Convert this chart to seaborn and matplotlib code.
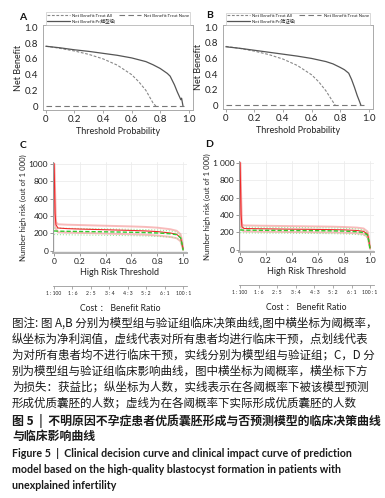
import numpy as np
import pandas as pd
import matplotlib
matplotlib.use("Agg")
import matplotlib.pyplot as plt
import seaborn as sns

sns.set_theme(style="white")
plt.rcParams['font.family'] = ['Lato', 'Noto Sans CJK SC', 'DejaVu Sans']

# ---------------- Decision curves (A, B) ----------------
thr_all_a = [0, 0.05, 0.1, 0.2, 0.3, 0.4, 0.5, 0.6, 0.65, 0.7, 0.75, 0.77]
nb_all_a = [0.76, 0.748, 0.733, 0.70, 0.657, 0.60, 0.52, 0.40, 0.31, 0.20, 0.04, 0.0]
thr_all_b = [0, 0.05, 0.1, 0.2, 0.3, 0.4, 0.5, 0.6, 0.65, 0.7, 0.74, 0.765]
nb_all_b = [0.755, 0.742, 0.728, 0.694, 0.65, 0.592, 0.51, 0.39, 0.30, 0.185, 0.07, 0.0]
thr_none = [0, 0.97]
nb_none = [0, 0]
thr_mod_a = [0, 0.1, 0.2, 0.3, 0.4, 0.5, 0.6, 0.7, 0.75, 0.8, 0.85, 0.87, 0.9, 0.92, 0.935, 0.945, 0.95, 0.96]
nb_mod_a = [0.76, 0.74, 0.715, 0.695, 0.67, 0.645, 0.612, 0.565, 0.525, 0.478, 0.415, 0.38, 0.27, 0.18, 0.12, 0.08, 0.10, 0.0]
thr_mod_b = [0, 0.1, 0.2, 0.3, 0.4, 0.5, 0.6, 0.7, 0.75, 0.8, 0.83, 0.86, 0.88, 0.9, 0.92, 0.935, 0.945]
nb_mod_b = [0.75, 0.73, 0.705, 0.68, 0.655, 0.63, 0.60, 0.56, 0.53, 0.485, 0.455, 0.41, 0.33, 0.23, 0.12, 0.05, 0.0]
legend_all = "Net Benefit:Treat All"
legend_none = "Net Benefit:Treat None"
legend_mod_a = "Net Benefit:Pr(模型组)"
legend_mod_b = "Net Benefit:Pr(验证组)"
dca_ticks = [0, 0.2, 0.4, 0.6, 0.8, 1.0]
dca_ticklabels = ["0", "0.2", "0.4", "0.6", "0.8", "1.0"]

# ---------------- Clinical impact curves (C, D) ----------------
thr_cic = [0, 0.003, 0.008, 0.015, 0.03, 0.1, 0.2, 0.3, 0.4, 0.5, 0.6, 0.7, 0.8, 0.9, 0.95, 0.98, 0.99, 1.0]
c_risk = [1000, 820, 430, 300, 262, 255, 250, 246, 242, 238, 234, 229, 221, 205, 190, 150, 90, 20]
c_risk_hi = [1000, 1000, 700, 330, 305, 300, 296, 292, 288, 284, 280, 275, 266, 248, 230, 190, 130, 30]
c_risk_lo = [1000, 600, 300, 250, 215, 210, 206, 202, 198, 194, 190, 185, 176, 160, 145, 110, 60, 10]
c_event = [228, 228, 228, 227, 226, 224, 222, 220, 218, 216, 213, 210, 205, 196, 185, 150, 90, 5]
c_event_hi = [262, 262, 262, 261, 260, 258, 256, 254, 252, 250, 247, 244, 239, 229, 215, 175, 110, 10]
c_event_lo = [188, 188, 188, 187, 186, 184, 182, 180, 178, 176, 174, 171, 166, 158, 148, 115, 60, 2]
d_risk = [1000, 800, 400, 265, 245, 243, 241, 239, 237, 236, 234, 232, 229, 222, 212, 180, 110, 20]
d_risk_hi = [1000, 1000, 650, 290, 280, 278, 276, 274, 272, 270, 268, 266, 262, 255, 245, 210, 140, 30]
d_risk_lo = [1000, 600, 280, 225, 212, 210, 208, 206, 204, 203, 201, 199, 196, 190, 180, 150, 80, 10]
d_event = [228, 228, 228, 227, 226, 225, 224, 223, 222, 221, 220, 218, 215, 208, 198, 170, 100, 5]
d_event_hi = [262, 262, 262, 261, 260, 259, 258, 257, 256, 255, 253, 251, 248, 240, 228, 195, 120, 10]
d_event_lo = [196, 196, 196, 195, 194, 193, 192, 191, 190, 189, 188, 186, 183, 176, 168, 140, 80, 2]
cic_yticks = [0, 200, 400, 600, 800, 1000]
c_yticklabels = ["0", "200", "400", "600", "800", "1000"]
d_yticklabels = ["0", "200", "400", "600", "800", "1 000"]
cb_ticks = list(np.linspace(0, 1, 8))
cb_labels = ["1 : 100", "1 : 6", "2 : 5", "3 : 4", "4 : 3", "5 : 2", "6 : 1", "100 : 1"]

caption_lines = [
    "图注: 图 A,B 分别为模型组与验证组临床决策曲线,图中横坐标为阈概率，",
    "纵坐标为净利润值，虚线代表对所有患者均进行临床干预，点划线代表",
    "为对所有患者均不进行临床干预，实线分别为模型组与验证组；C，D 分",
    "别为模型组与验证组临床影响曲线，图中横坐标为阈概率，横坐标下方",
    "为损失：获益比；纵坐标为人数，实线表示在各阈概率下被该模型预测",
    "形成优质囊胚的人数；虚线为在各阈概率下实际形成优质囊胚的人数",
]
title_cn = ["图 5  |  不明原因不孕症患者优质囊胚形成与否预测模型的临床决策曲线",
            "与临床影响曲线"]
title_en = ["Figure 5  |  Clinical decision curve and clinical impact curve of prediction",
            "model based on the high-quality blastocyst formation in patients with",
            "unexplained infertility"]

W, H = 385, 498
fig = plt.figure(figsize=(W / 100, H / 100), dpi=100)


def px_axes(l, t, r, b):
    return fig.add_axes([l / W, 1 - b / H, (r - l) / W, (b - t) / H])


def dca_panel(ax, thr_all, nb_all, thr_mod, nb_mod, mod_label):
    sns.lineplot(x=thr_all, y=nb_all, ax=ax, color="#888888", lw=0.8, label=legend_all)
    ax.lines[-1].set_dashes((2.5, 1.5))
    sns.lineplot(x=thr_mod, y=nb_mod, ax=ax, color="#555555", lw=0.9, label=mod_label, sort=False)
    sns.lineplot(x=thr_none, y=nb_none, ax=ax, color="#777777", lw=0.8, label=legend_none)
    ax.lines[-1].set_dashes((5, 3))
    ax.set_xlim(-0.02, 1.03)
    ax.set_ylim(-0.05, 1.03)
    ax.set_xticks(dca_ticks)
    ax.set_xticklabels(dca_ticklabels)
    ax.set_yticks(dca_ticks)
    ax.set_yticklabels(dca_ticklabels)
    ax.tick_params(labelsize=7, length=2, width=0.6, color="#999999", pad=1.5,
                   bottom=True, left=False, labelcolor="#222222")
    for s in ax.spines.values():
        s.set_color("#aaaaaa")
        s.set_linewidth(0.7)
    ax.set_xlabel("Threshold Probability", fontsize=6.5, labelpad=2, color="#222222")
    ax.set_ylabel("Net Benefit", fontsize=6.5, labelpad=1, color="#222222")
    h, l = ax.get_legend_handles_labels()
    leg = ax.legend(h, l, ncol=2, fontsize=3.2,
                    loc="upper left", bbox_to_anchor=(0.005, 0.995, 0.99, 0.18), mode="expand",
                    frameon=True, fancybox=False, edgecolor="#bbbbbb", borderpad=0.3,
                    handlelength=5, handletextpad=0.5, labelspacing=0.2, columnspacing=1.0)
    leg.get_frame().set_linewidth(0.5)


axA = px_axes(43, 25, 193, 110)
dca_panel(axA, thr_all_a, nb_all_a, thr_mod_a, nb_mod_a, legend_mod_a)
axB = px_axes(223, 25, 373, 109)
dca_panel(axB, thr_all_b, nb_all_b, thr_mod_b, nb_mod_b, legend_mod_b)


def cic_panel(ax, risk, risk_hi, risk_lo, ev, ev_hi, ev_lo, ylabels):
    ax.grid(True, color="#ececec", lw=0.6)
    ax.set_axisbelow(True)
    sns.lineplot(x=thr_cic, y=risk_hi, ax=ax, color="#f48f8f", lw=1.4, alpha=0.6, sort=False)
    sns.lineplot(x=thr_cic, y=risk_lo, ax=ax, color="#f48f8f", lw=1.4, alpha=0.6, sort=False)
    sns.lineplot(x=thr_cic, y=ev_hi, ax=ax, color="#9be89b", lw=0.8, linestyle=":", sort=False)
    sns.lineplot(x=thr_cic, y=ev_lo, ax=ax, color="#9be89b", lw=0.8, linestyle=":", sort=False)
    sns.lineplot(x=thr_cic, y=risk, ax=ax, color="#ee2a2a", lw=0.8, sort=False)
    sns.lineplot(x=thr_cic, y=ev, ax=ax, color="#2fcc2f", lw=1.0, sort=False)
    ax.lines[-1].set_dashes((3, 1.5))
    ax.set_xlim(-0.008, 1.03)
    ax.set_ylim(-25, 1020)
    ax.set_xticks(dca_ticks)
    ax.set_xticklabels(dca_ticklabels)
    ax.set_yticks(cic_yticks)
    ax.set_yticklabels(ylabels)
    ax.tick_params(labelsize=6, length=2, width=0.6, color="#888888", pad=1.5,
                   bottom=True, left=True, labelcolor="#222222")
    ax.spines["top"].set_visible(False)
    ax.spines["right"].set_visible(False)
    ax.spines["left"].set_color("#999999")
    ax.spines["left"].set_linewidth(0.7)
    ax.spines["bottom"].set_color("#b0b0b0")
    ax.spines["bottom"].set_linewidth(1.4)
    ax.set_xlabel("High Risk Threshold", fontsize=6.5, labelpad=2, color="#222222")
    ax.set_ylabel("Number high risk (out of 1 000)", fontsize=5.6, labelpad=1, color="#222222")
    sec = ax.secondary_xaxis(-0.36)
    sec.set_xticks(cb_ticks)
    sec.set_xticklabels(cb_labels)
    sec.tick_params(labelsize=3.6, length=2, width=0.5, color="#888888", pad=1.5,
                    labelcolor="#222222")
    sec.spines["bottom"].set_color("#999999")
    sec.spines["bottom"].set_linewidth(0.6)
    sec.set_xlabel("Cost ： Benefit Ratio", fontsize=6.2, labelpad=6, color="#222222")


axC = px_axes(53, 162, 187, 253)
cic_panel(axC, c_risk, c_risk_hi, c_risk_lo, c_event, c_event_hi, c_event_lo, c_yticklabels)
axD = px_axes(239, 161, 374, 252)
cic_panel(axD, d_risk, d_risk_hi, d_risk_lo, d_event, d_event_hi, d_event_lo, d_yticklabels)

for lab, x, y in [("A", 23, 17), ("B", 210, 16), ("C", 23, 145), ("D", 209, 144)]:
    fig.text(x / W, 1 - y / H, lab, fontsize=7.5, fontweight="bold", ha="center", va="center",
             color="#111111")

cjk = ["Noto Sans CJK SC", "DejaVu Sans"]
cap_y = [323, 339, 355, 371, 387, 403]
for t, y in zip(caption_lines, cap_y):
    fig.text(12 / W, 1 - y / H, t, fontsize=8.3, family=cjk, ha="left", va="center", color="#1a1a1a")
for t, y in zip(title_cn, [421, 436]):
    fig.text(12 / W, 1 - y / H, t, fontsize=8.6, family=cjk, fontweight="bold", ha="left",
             va="center", color="#1a1a1a")
for t, y in zip(title_en, [453, 469, 485]):
    fig.text(12 / W, 1 - y / H, t, fontsize=7.7, family=["Lato", "DejaVu Sans"], fontweight="bold",
             ha="left", va="center", color="#1a1a1a")

fig.savefig("out.png", dpi=100)
